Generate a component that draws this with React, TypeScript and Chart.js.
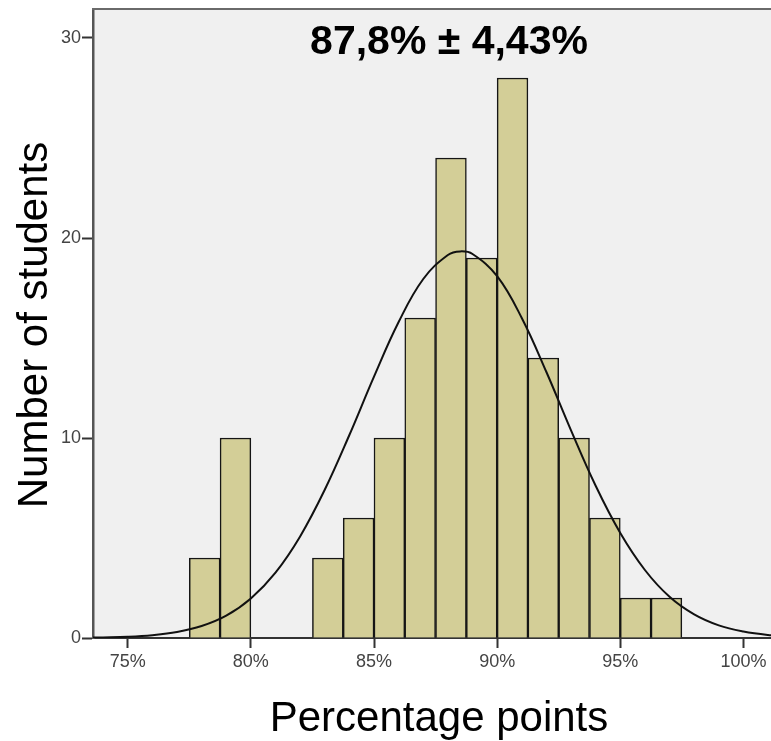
import React, { useEffect, useRef } from "react";
import { Chart, registerables } from "chart.js";

Chart.register(...registerables);

// Histogram bins (lower edge of each 1.25-point bin) and counts
const BIN_WIDTH = 1.25;
const BIN_START = [77.5, 78.75, 80, 81.25, 82.5, 83.75, 85, 86.25, 87.5, 88.75, 90, 91.25, 92.5, 93.75, 95, 96.25];
const COUNTS = [4, 10, 0, 0, 4, 6, 10, 16, 24, 19, 28, 14, 10, 6, 2, 2];

// Fitted normal curve
const CURVE_X = [73, 74, 75, 76, 77, 78, 79, 80, 81, 82, 83, 84, 85, 86, 87, 88, 88.5, 89, 90, 91, 92, 93, 94, 95, 96, 97, 98, 99, 100, 101, 102];
const CURVE_Y = [0.01, 0.03, 0.06, 0.14, 0.3, 0.6, 1.12, 1.98, 3.27, 5.08, 7.41, 10.15, 13.07, 15.8, 17.95, 19.15, 19.33, 19.2, 18.09, 16.0, 13.3, 10.38, 7.61, 5.25, 3.4, 2.06, 1.18, 0.63, 0.32, 0.15, 0.07];

const X_TICKS = [75, 80, 85, 90, 95, 100];
const Y_TICKS = [0, 10, 20, 30];
const X_MIN = 73.59;
const X_MAX = 101.12;
const Y_MAX = 31.45;

const TITLE = "87,8% ± 4,43%";
const X_TITLE = "Percentage points";
const Y_TITLE = "Number of students";

const FONT = '"Liberation Sans", Arial, sans-serif';

export default function App() {
  const ref = useRef<HTMLCanvasElement | null>(null);

  useEffect(() => {
    if (!ref.current) return;
    const decor = {
      id: "decor",
      beforeDraw(chart: any) {
        const { ctx, chartArea } = chart;
        ctx.save();
        ctx.fillStyle = "#ffffff";
        ctx.fillRect(0, 0, chart.width, chart.height);
        ctx.fillStyle = "#F0F0F0";
        ctx.fillRect(chartArea.left, chartArea.top, chartArea.right - chartArea.left, chartArea.bottom - chartArea.top);
        ctx.restore();
      },
      afterDraw(chart: any) {
        const { ctx, chartArea } = chart;
        ctx.save();
        // top frame line
        ctx.strokeStyle = "#6a6a6a";
        ctx.lineWidth = 2;
        ctx.beginPath();
        ctx.moveTo(chartArea.left - 1, chartArea.top);
        ctx.lineTo(chartArea.right, chartArea.top);
        ctx.stroke();
        // chart title
        ctx.fillStyle = "#000";
        ctx.font = `bold 41px ${FONT}`;
        ctx.textAlign = "center";
        ctx.textBaseline = "alphabetic";
        ctx.fillText(TITLE, 449, 54);
        // x title
        ctx.font = `42px ${FONT}`;
        ctx.fillText(X_TITLE, 439, 731);
        // y title
        ctx.translate(47, 325);
        ctx.rotate(-Math.PI / 2);
        ctx.fillText(Y_TITLE, 0, 0);
        ctx.restore();
      },
    };

    const chart = new Chart(ref.current, {
      type: "bar",
      data: {
        datasets: [
          {
            type: "line",
            data: CURVE_X.map((x, i) => ({ x, y: CURVE_Y[i] })),
            borderColor: "#111",
            borderWidth: 2,
            pointRadius: 0,
            tension: 0.4,
            fill: false,
            order: 0,
          } as any,
          {
            type: "bar",
            data: BIN_START.map((s, i) => ({ x: s + BIN_WIDTH / 2, y: COUNTS[i] })),
            backgroundColor: "#D3CE97",
            borderColor: "#151515",
            borderWidth: 1.5,
            borderSkipped: "bottom",
            barPercentage: 1,
            categoryPercentage: 1,
            order: 1,
          } as any,
        ],
      },
      options: {
        animation: false,
        responsive: false,
        devicePixelRatio: 1,
        layout: { padding: { top: 9, left: 0, right: 0, bottom: 0 } },
        plugins: { legend: { display: false }, tooltip: { enabled: false } },
        scales: {
          x: {
            type: "linear",
            min: X_MIN,
            max: X_MAX,
            offset: false,
            z: 1,
            afterBuildTicks: (scale: any) => {
              scale.ticks = X_TICKS.map((v) => ({ value: v }));
            },
            afterFit: (scale: any) => {
              scale.height = 103;
              scale.paddingLeft = 0;
              scale.paddingRight = 0;
            },
            grid: {
              display: true,
              offset: false,
              drawOnChartArea: false,
              drawTicks: true,
              tickLength: 10,
              tickWidth: 2,
              tickColor: "#333",
            },
            border: { display: true, color: "#333", width: 2 },
            ticks: {
              autoSkip: false,
              maxRotation: 0,
              padding: 3,
              color: "#444",
              font: { family: FONT, size: 18 },
              callback: (v: any) => `${v}%`,
            },
          },
          y: {
            type: "linear",
            min: 0,
            max: Y_MAX,
            z: 1,
            afterBuildTicks: (scale: any) => {
              scale.ticks = Y_TICKS.map((v) => ({ value: v }));
            },
            afterFit: (scale: any) => {
              scale.width = 93;
              scale.paddingTop = 0;
              scale.paddingBottom = 0;
            },
            grid: {
              display: true,
              offset: false,
              drawOnChartArea: false,
              drawTicks: true,
              tickLength: 11,
              tickWidth: 2,
              tickColor: "#333",
            },
            border: { display: true, color: "#555", width: 2.5 },
            ticks: {
              autoSkip: false,
              padding: 1,
              color: "#444",
              font: { family: FONT, size: 18 },
            },
          },
        },
      },
      plugins: [decor],
    } as any);

    return () => chart.destroy();
  }, []);

  return (
    <div style={{ position: "absolute", left: 0, top: 0, width: 771, height: 741, background: "#fff" }}>
      <canvas ref={ref} width={771} height={741} style={{ display: "block", width: 771, height: 741 }} />
    </div>
  );
}
